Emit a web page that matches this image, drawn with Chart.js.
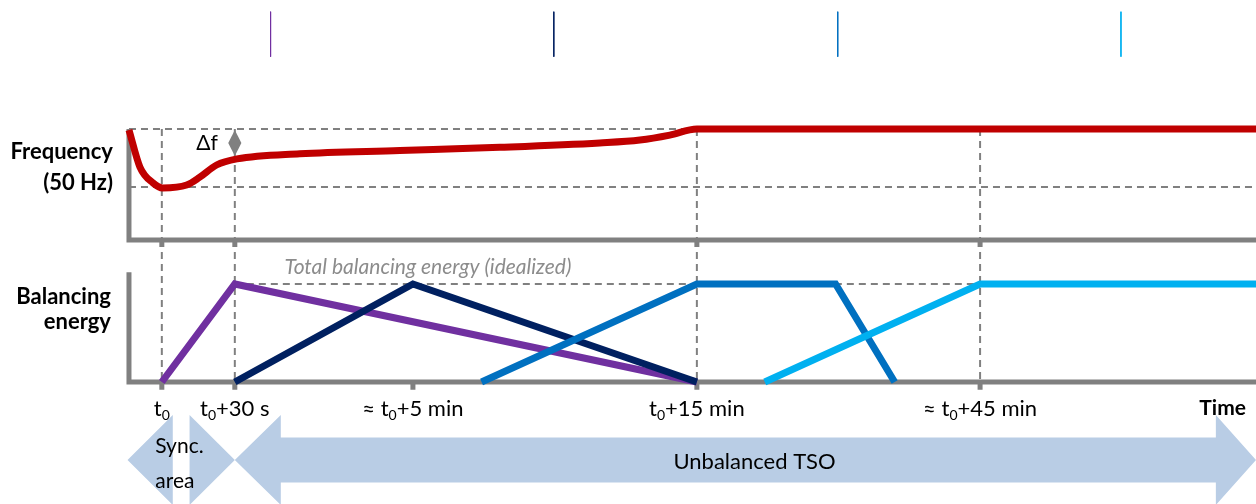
<!DOCTYPE html>
<html lang="en">
<head>
  <meta charset="UTF-8">
  <title>Balancing energy after a frequency drop</title>
  <script src="https://cdn.jsdelivr.net/npm/chart.js"></script>
  <style>
    html, body { margin: 0; padding: 0; background: #fff; }
    #box { width: 1256px; height: 504px; }
  </style>
</head>
<body>
  <div id="box"><canvas id="myChartCanvas" width="1256" height="504"></canvas></div>

<script>
  // schematic time axis: t0 = 0, t0+30 s = 1 (the diagram is not to scale)
  var tickPos = [0, 1, 3.44, 7.33, 11.21];
  var tickLabels = ['t₀', 't₀+30 s', '≈ t₀+5 min', 't₀+15 min', '≈ t₀+45 min'];
  var freqTicks = [0, 1, 7.33, 11.21];
  var xStart = -0.45;
  var xEnd = 14.99;

  // frequency (Hz), nominal 50 Hz
  var freqX = [-0.45, -0.30, -0.12, 0.01, 0.34, 0.52, 0.75, 1.03, 1.89, 3.26, 4.63, 6.0, 6.55, 6.96, 7.33, 14.99];
  var freqHz = [49.997, 49.869, 49.814, 49.797, 49.807, 49.834, 49.876, 49.897, 49.915, 49.926, 49.937, 49.952, 49.962, 49.979, 50.0, 50.0];
  var nominalHz = 50.0;
  var nadirHz = 49.8;
  var deltaFx = [1, 1.09, 1, 0.91, 1];
  var deltaFy = [49.997, 49.952, 49.907, 49.952, 49.997];

  // balancing energy (% of total), one list per reserve
  var res1X = [0, 1, 7.33];
  var res1E = [0, 100, 0];
  var res2X = [1, 3.44, 7.33];
  var res2E = [0, 100, 0];
  var res3X = [4.38, 7.33, 9.23, 10.04];
  var res3E = [0, 100, 100, 0];
  var res4X = [8.26, 11.21, 14.99];
  var res4E = [0, 100, 100];
  var totalE = 100;

  // marks in the top strip
  var markX = [1.49, 5.37, 9.26, 13.14];

  // arrows at the bottom (centre line = 0, head half-height = 1)
  var syncLeftX = [-0.47, 0.15, 0.15, -0.47];
  var syncLeftY = [0, 1, -1, 0];
  var syncRightX = [0.38, 1.0, 0.38, 0.38];
  var syncRightY = [1, 0, -1, 1];
  var tsoX = [1, 1.63, 1.63, 14.44, 14.44, 14.99, 14.44, 14.44, 1.63, 1.63, 1];
  var tsoY = [0, 1, 0.5, 0.5, 1, 0, -1, -0.5, -0.5, -1, 0];

  var gris = '#808080';
  var cores = ['#7030A0', '#002060', '#0070C0', '#00B0F0'];

  function pts(xs, ys) {
    var out = [];
    for (var i = 0; i < xs.length; i++) out.push({ x: xs[i], y: ys[i] });
    return out;
  }

  // several segments in one dataset, split by a null point
  function segs(lista) {
    var out = [];
    for (var i = 0; i < lista.length; i++) {
      if (i > 0) out.push({ x: lista[i][0].x, y: null });
      out = out.concat(lista[i]);
    }
    return out;
  }

  var freqBase = 49.617;   // frequency panel axis
  var freqTickEnd = 49.593;
  var energyGapTop = 144.9; // energy value where the upper panel axis sits
  var energyAxisTop = 112;

  var guiasF = [[{ x: xStart, y: nominalHz }, { x: 7.33, y: nominalHz }],
                [{ x: xStart, y: nadirHz }, { x: xEnd, y: nadirHz }]];
  for (var i = 0; i < freqTicks.length; i++) {
    guiasF.push([{ x: freqTicks[i], y: nominalHz }, { x: freqTicks[i], y: freqBase }]);
  }
  var guiasE = [[{ x: 1, y: totalE }, { x: 11.21, y: totalE }]];
  for (var i = 0; i < freqTicks.length; i++) {
    guiasE.push([{ x: freqTicks[i], y: energyGapTop }, { x: freqTicks[i], y: 0 }]);
  }

  var eixoF = [[{ x: xStart, y: nominalHz }, { x: xStart, y: freqBase }, { x: xEnd, y: freqBase }]];
  for (var i = 0; i < freqTicks.length; i++) {
    eixoF.push([{ x: freqTicks[i], y: freqBase }, { x: freqTicks[i], y: freqTickEnd }]);
  }
  var eixoE = [[{ x: xStart, y: energyAxisTop }, { x: xStart, y: 0 }, { x: xEnd, y: 0 }]];
  for (var i = 0; i < tickPos.length; i++) {
    eixoE.push([{ x: tickPos[i], y: 0 }, { x: tickPos[i], y: -8 }]);
  }

  var marcas = [];
  for (var i = 0; i < markX.length; i++) {
    marcas.push({
      data: [{ x: markX[i], y: 9.96 }, { x: markX[i], y: 8.96 }],
      yAxisID: 'yA', borderColor: cores[i], borderWidth: 1, pointRadius: 0, order: 1
    });
  }

  var seta = { backgroundColor: '#B9CDE5', borderWidth: 0, pointRadius: 0, fill: 'shape', yAxisID: 'yA', order: 20, tension: 0 };

  var datasets = [
    { data: pts(res4X, res4E), yAxisID: 'yE', borderColor: cores[3], borderWidth: 7, pointRadius: 0, borderJoinStyle: 'miter', order: 1 },
    { data: pts(res3X, res3E), yAxisID: 'yE', borderColor: cores[2], borderWidth: 7, pointRadius: 0, borderJoinStyle: 'miter', order: 2 },
    { data: pts(res2X, res2E), yAxisID: 'yE', borderColor: cores[1], borderWidth: 7, pointRadius: 0, borderJoinStyle: 'miter', order: 3 },
    { data: pts(res1X, res1E), yAxisID: 'yE', borderColor: cores[0], borderWidth: 7, pointRadius: 0, borderJoinStyle: 'miter', order: 4 },
    { data: pts(freqX, freqHz), yAxisID: 'yF', borderColor: '#C00000', borderWidth: 7, pointRadius: 0, cubicInterpolationMode: 'monotone', order: 1 },
    Object.assign({}, seta, { data: pts(deltaFx, deltaFy), yAxisID: 'yF', backgroundColor: gris, order: 1 }),
    { data: segs(eixoF), yAxisID: 'yF', borderColor: gris, borderWidth: 5, pointRadius: 0, borderJoinStyle: 'miter', spanGaps: false, order: 5 },
    { data: segs(eixoE), yAxisID: 'yE', borderColor: gris, borderWidth: 5, pointRadius: 0, borderJoinStyle: 'miter', spanGaps: false, order: 5 },
    { data: segs(guiasF), yAxisID: 'yF', borderColor: gris, borderWidth: 2, borderDash: [7, 5], pointRadius: 0, spanGaps: false, order: 10 },
    { data: segs(guiasE), yAxisID: 'yE', borderColor: gris, borderWidth: 2, borderDash: [7, 5], pointRadius: 0, spanGaps: false, order: 10 },
    Object.assign({}, seta, { data: pts(syncLeftX, syncLeftY) }),
    Object.assign({}, seta, { data: pts(syncRightX, syncRightY) }),
    Object.assign({}, seta, { data: pts(tsoX, tsoY) })
  ].concat(marcas);

  var fonte = 'Lato, "Open Sans", sans-serif';

  // text with a real subscript for the "₀"
  function textoSub(ctx, texto, cx, cy, tam) {
    var partes = texto.split('₀');
    var normal = tam + 'px ' + fonte;
    var sub = Math.round(tam * 0.65) + 'px ' + fonte;
    var larg = 0;
    for (var i = 0; i < partes.length; i++) {
      ctx.font = normal;
      larg += ctx.measureText(partes[i]).width;
      if (i < partes.length - 1) { ctx.font = sub; larg += ctx.measureText('0').width; }
    }
    var px = cx - larg / 2;
    ctx.textAlign = 'left';
    for (var i = 0; i < partes.length; i++) {
      ctx.font = normal;
      ctx.fillText(partes[i], px, cy);
      px += ctx.measureText(partes[i]).width;
      if (i < partes.length - 1) {
        ctx.font = sub;
        ctx.fillText('0', px, cy + tam * 0.3);
        px += ctx.measureText('0').width;
      }
    }
  }

  // texts placed through the chart scales
  var textos = {
    id: 'textos',
    afterDatasetsDraw: function (chart) {
      var ctx = chart.ctx;
      var x = chart.scales.x, yF = chart.scales.yF, yE = chart.scales.yE, yA = chart.scales.yA;
      var px0 = x.getPixelForValue(xStart);
      ctx.save();
      ctx.fillStyle = '#000';
      ctx.textBaseline = 'middle';

      ctx.font = 'bold 22px ' + fonte;
      ctx.textAlign = 'right';
      ctx.fillText('Frequency', px0 - 16, yF.getPixelForValue(49.92));
      ctx.fillText('(50 Hz)', px0 - 16, yF.getPixelForValue(49.815));
      ctx.fillText('Balancing', px0 - 18, yE.getPixelForValue(87));
      ctx.fillText('energy', px0 - 18, yE.getPixelForValue(61));

      var yt = yE.getPixelForValue(-27);
      for (var i = 0; i < tickPos.length; i++) {
        textoSub(ctx, tickLabels[i], x.getPixelForValue(tickPos[i]), yt, 22);
      }
      ctx.font = 'bold 21px ' + fonte;
      ctx.textAlign = 'right';
      ctx.fillText('Time', x.getPixelForValue(xEnd) - 10, yt);

      ctx.font = '21px ' + fonte;
      ctx.textAlign = 'center';
      ctx.fillText('Δf', x.getPixelForValue(0.62), yF.getPixelForValue(49.952));

      ctx.font = 'italic 21px ' + fonte;
      ctx.fillStyle = '#8C8C8C';
      ctx.textAlign = 'left';
      ctx.fillText('Total balancing energy (idealized)', x.getPixelForValue(1.68), yE.getPixelForValue(117));

      ctx.fillStyle = '#000';
      ctx.font = '21px ' + fonte;
      ctx.fillText('Sync.', x.getPixelForValue(-0.09), yA.getPixelForValue(0.31));
      ctx.fillText('area', x.getPixelForValue(-0.09), yA.getPixelForValue(-0.47));
      ctx.textAlign = 'center';
      ctx.font = '22px ' + fonte;
      ctx.fillText('Unbalanced TSO', x.getPixelForValue(8.12), yA.getPixelForValue(-0.05));
      ctx.restore();
    }
  };

  var myChart = new Chart(document.getElementById('myChartCanvas'), {
    type: 'line',
    data: { datasets: datasets },
    options: {
      responsive: false,
      devicePixelRatio: 1,
      animation: false,
      layout: { padding: 0 },
      plugins: { legend: { display: false }, tooltip: { enabled: false } },
      scales: {
        x: { type: 'linear', min: -2.217, max: 14.99, display: false },
        yF: { type: 'linear', min: 48.707, max: 50.445, display: false },
        yE: { type: 'linear', min: -124.5, max: 389.8, display: false },
        yA: { type: 'linear', min: -0.978, max: 10.22, display: false }
      }
    },
    plugins: [textos]
  });
</script>
</body>
</html>
